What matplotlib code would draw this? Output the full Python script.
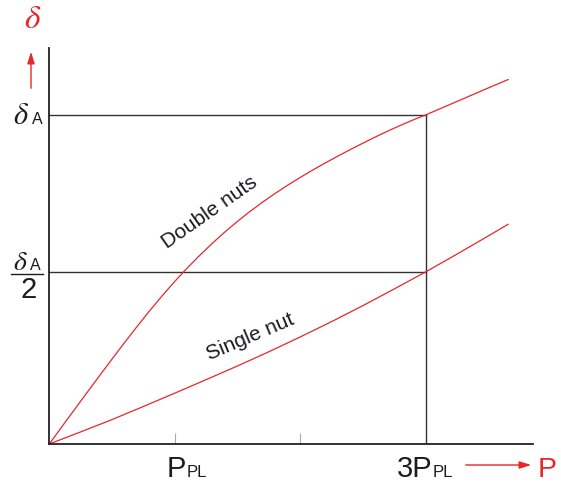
import matplotlib
matplotlib.use("Agg")
import matplotlib.pyplot as plt

plt.rcParams['font.family'] = ['Liberation Sans', 'DejaVu Sans']
plt.rcParams['mathtext.fontset'] = 'stix'

# ---- data (x in units of P_PL, y in arbitrary deflection units) ----
double_x = [0, 0.1, 0.2, 0.3, 0.4, 0.5, 0.6, 0.7, 0.8, 0.9, 1.0, 1.1, 1.2, 1.3, 1.4, 1.5,
            1.6, 1.7, 1.8, 1.9, 2.0, 2.1, 2.2, 2.3, 2.4, 2.5, 2.6, 2.7, 2.8, 2.9, 3.0,
            3.1, 3.2, 3.3, 3.4, 3.5, 3.66]
double_y = [0, 17.2, 34.3, 51.3, 68.2, 84.9, 101.4, 117.5, 133.2, 148.2, 162.5, 176.0,
            188.7, 200.7, 212.0, 222.6, 232.5, 241.8, 250.5, 258.7, 266.5, 273.9, 281.0,
            287.8, 294.4, 300.8, 307.0, 313.0, 318.6, 324.0, 329.0, 334.4, 339.8, 345.2,
            350.6, 356.0, 364.5]
single_x = [0, 0.25, 0.5, 0.75, 1.0, 1.25, 1.5, 1.75, 2.0, 2.25, 2.5, 2.75, 3.0, 3.25, 3.5, 3.66]
single_y = [0, 12.1, 24.4, 37.5, 50.8, 64.3, 78.0, 92.2, 107.0, 122.3, 138.3, 155.0, 172.0,
            189.8, 208.0, 219.8]
x_ticks = [1, 2, 3]
x_label_big = ['P', '', '3P']
x_label_small = ['PL', '', 'PL']
delta_A = 329
delta_A_half = 172
P_ref = 3
curve_labels = ['Double nuts', 'Single nut']

W, H = 561, 482
fig = plt.figure(figsize=(W / 100, H / 100), dpi=100)
x0, x1, ytop, ybot = 49.3, 533.0, 48.0, 444.0
ax = fig.add_axes([x0 / W, (H - ybot) / H, (x1 - x0) / W, (ybot - ytop) / H])
ax.set_xlim(0, (x1 - x0) / 125.4)
ax.set_ylim(0, ybot - ytop)

for s in ['top', 'right']:
    ax.spines[s].set_visible(False)
for s in ['left', 'bottom']:
    ax.spines[s].set_color('#222222')
    ax.spines[s].set_linewidth(1.3)

ax.set_xticks(x_ticks[:2])
ax.set_xticklabels([])
ax.tick_params(axis='x', direction='in', length=8, width=0.8, color='#aaaaaa')
ax.set_yticks([])

red = '#e8262a'
dark = '#1b1b24'

# reference lines
ax.plot([0, P_ref], [delta_A, delta_A], color='#333333', lw=1.0)
ax.plot([0, P_ref], [delta_A_half, delta_A_half], color='#333333', lw=1.0)
ax.plot([P_ref, P_ref], [0, delta_A], color='#333333', lw=1.0)

# curves
ax.plot(double_x, double_y, color=red, lw=0.9, solid_capstyle='round', solid_joinstyle='round')
ax.plot(single_x, single_y, color=red, lw=0.9, solid_capstyle='round', solid_joinstyle='round')

# curve labels
ax.text(1.28, 232, curve_labels[0], rotation=35, fontsize=15, color=dark,
        ha='center', va='center', rotation_mode='anchor')
ax.text(1.6, 107, curve_labels[1], rotation=23, fontsize=15, color=dark,
        ha='center', va='center', rotation_mode='anchor')

def fp(x, y):
    return (x / W, 1 - y / H)

# x tick labels (big + small caps at same baseline)
fig.canvas.draw()
r = fig.canvas.get_renderer()
big_left = {0: 167.0, 2: 396.5}
for i, (b, s) in enumerate(zip(x_label_big, x_label_small)):
    if not b:
        continue
    t = fig.text(*fp(big_left[i], 477), b, fontsize=21, color=dark, ha='left', va='baseline')
    fig.canvas.draw()
    bb = t.get_window_extent(r)
    fig.text((bb.x1 + 0.5) / W, 1 - 477 / H, s, fontsize=12, color=dark, ha='left', va='baseline')

# P axis arrow and label
ax.annotate('', xy=(534, H - 465), xycoords='figure pixels',
            xytext=(463, H - 465), textcoords='figure pixels',
            arrowprops=dict(arrowstyle='-|>,head_length=0.7,head_width=0.22', color=red, lw=1.0))
fig.text(*fp(538, 477), 'P', fontsize=20.5, color=red, ha='left', va='baseline')

# delta axis arrow and label
ax.annotate('', xy=(31, H - 49), xycoords='figure pixels',
            xytext=(31, H - 91), textcoords='figure pixels',
            arrowprops=dict(arrowstyle='-|>,head_length=0.7,head_width=0.22', color=red, lw=1.0))
fig.text(*fp(33, 19), r'$\delta$', fontsize=24, color=red, ha='center', va='center')

# y labels
fig.text(*fp(13, 124), r'$\delta$', fontsize=22, color=dark, ha='left', va='baseline')
fig.text(*fp(31.5, 124), 'A', fontsize=11.5, color=dark, ha='left', va='baseline')

fig.text(*fp(13, 269.5), r'$\delta$', fontsize=20, color=dark, ha='left', va='baseline')
fig.text(*fp(29.5, 269.5), 'A', fontsize=11.5, color=dark, ha='left', va='baseline')
fig.add_artist(plt.Line2D([11 / W, 43 / W], [1 - 274.3 / H, 1 - 274.3 / H],
                          color=dark, lw=1.0, transform=fig.transFigure))
fig.text(*fp(28.5, 298), '2', fontsize=21, color=dark, ha='center', va='baseline')

fig.savefig('out.png', dpi=100)
